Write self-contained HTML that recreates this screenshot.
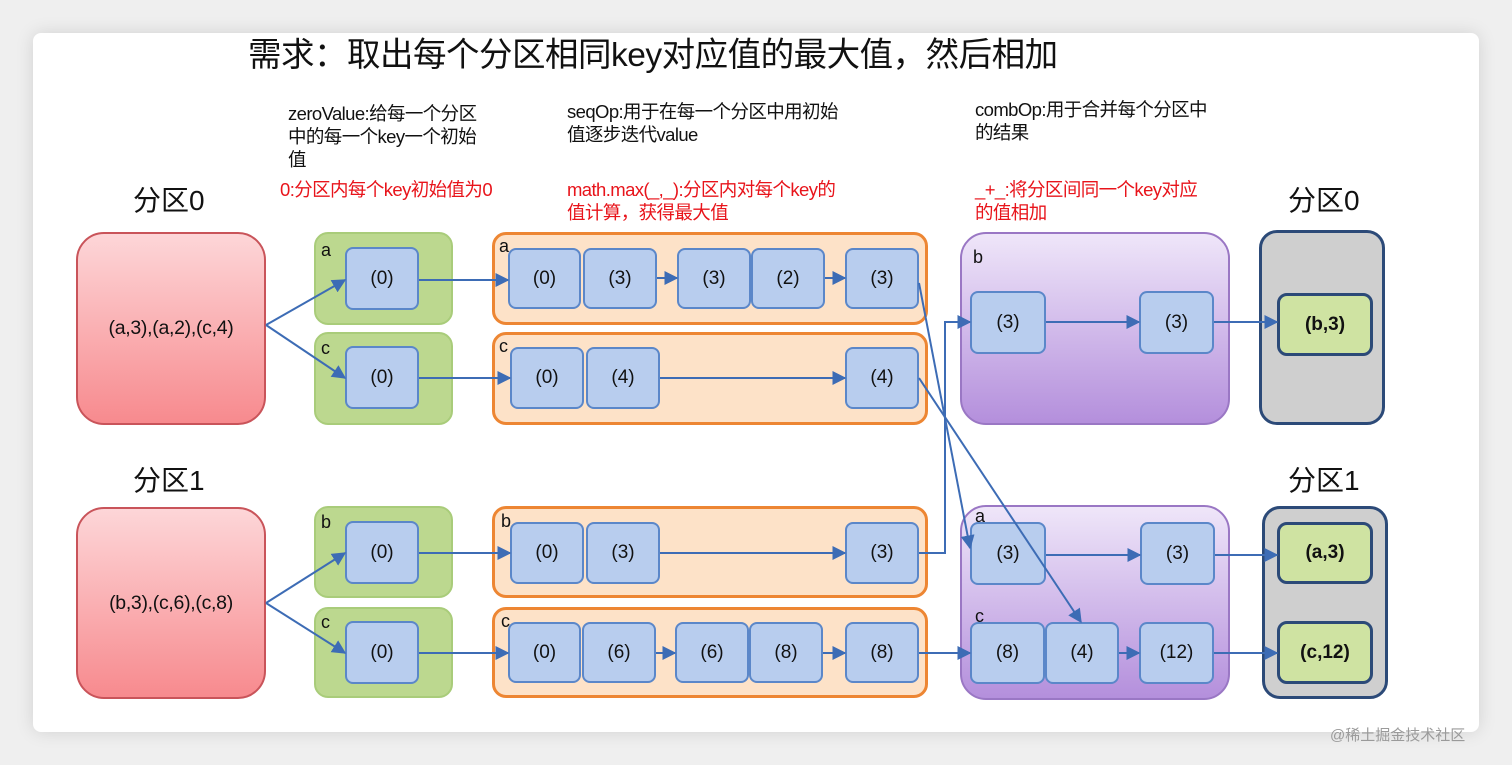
<!DOCTYPE html>
<html><head><meta charset="utf-8"><style>
*{margin:0;padding:0;box-sizing:border-box}
body{width:1512px;height:765px;background:#efefef;position:relative;overflow:hidden;font-family:"Liberation Sans","Noto Sans CJK SC",sans-serif;color:#111}
.card{position:absolute;left:33px;top:33px;width:1446px;height:699px;background:#fff;border-radius:8px;box-shadow:0 0 18px rgba(0,0,0,.12)}
.a{position:absolute}
.t{position:absolute;font-size:18.5px;line-height:23px;letter-spacing:-0.6px;white-space:nowrap}
.red{color:#e8141b}
.big{position:absolute;font-size:28px;line-height:32px}
.rb{position:absolute;border:2px solid #c9545a;border-radius:28px;background:linear-gradient(#fdd6d8,#f78a8e);display:flex;align-items:center;justify-content:center;font-size:19.5px;letter-spacing:-0.3px}
.gb{position:absolute;border-radius:14px;background:#bcd88f;border:2px solid #a9cc7a}
.ob{position:absolute;border-radius:14px;background:#fde2c8;border:3px solid #ed8633}
.pb{position:absolute;border-radius:26px;border:2px solid #9a77c4;background:linear-gradient(#efe6f9,#b48fdc)}
.gr{position:absolute;border-radius:18px;border:3px solid #2c4a78;background:#cfcfcf}
.n{position:absolute;border-radius:8px;background:#b8cdee;border:2px solid #5b87c9;display:flex;align-items:center;justify-content:center;font-size:19px}
.g{position:absolute;border-radius:10px;background:#cfe3a2;border:3px solid #2c4a78;display:flex;align-items:center;justify-content:center;font-size:19px;font-weight:bold}
.l{position:absolute;font-size:18px}
svg{position:absolute;left:0;top:0}
</style></head><body>
<div class="card"></div>
<div class="a" style="left:248px;top:36px;font-size:33.5px;line-height:40px;letter-spacing:-0.5px;white-space:nowrap">需求：取出每个分区相同key对应值的最大值，然后相加</div>

<div class="t" style="left:288px;top:102px">zeroValue:给每一个分区<br>中的每一个key一个初始<br>值</div>
<div class="t" style="left:567px;top:100px">seqOp:用于在每一个分区中用初始<br>值逐步迭代value</div>
<div class="t" style="left:975px;top:98px">combOp:用于合并每个分区中<br>的结果</div>
<div class="t red" style="left:280px;top:178px">0:分区内每个key初始值为0</div>
<div class="t red" style="left:567px;top:178px">math.max(_,_):分区内对每个key的<br>值计算，获得最大值</div>
<div class="t red" style="left:975px;top:178px">_+_:将分区间同一个key对应<br>的值相加</div>

<div class="big" style="left:133px;top:185px">分区0</div>
<div class="big" style="left:133px;top:465px">分区1</div>
<div class="big" style="left:1288px;top:185px">分区0</div>
<div class="big" style="left:1288px;top:465px">分区1</div>

<div class="rb" style="left:76px;top:232px;width:190px;height:193px">(a,3),(a,2),(c,4)</div>
<div class="rb" style="left:76px;top:507px;width:190px;height:192px">(b,3),(c,6),(c,8)</div>

<div class="gb" style="left:314px;top:232px;width:139px;height:93px"></div>
<div class="gb" style="left:314px;top:332px;width:139px;height:93px"></div>
<div class="gb" style="left:314px;top:506px;width:139px;height:92px"></div>
<div class="gb" style="left:314px;top:607px;width:139px;height:91px"></div>
<div class="l" style="left:321px;top:240px">a</div>
<div class="l" style="left:321px;top:338px">c</div>
<div class="l" style="left:321px;top:512px">b</div>
<div class="l" style="left:321px;top:612px">c</div>
<div class="n" style="left:345px;top:247px;width:74px;height:63px">(0)</div>
<div class="n" style="left:345px;top:346px;width:74px;height:63px">(0)</div>
<div class="n" style="left:345px;top:521px;width:74px;height:63px">(0)</div>
<div class="n" style="left:345px;top:621px;width:74px;height:63px">(0)</div>

<div class="ob" style="left:492px;top:232px;width:436px;height:93px"></div>
<div class="ob" style="left:492px;top:332px;width:436px;height:93px"></div>
<div class="ob" style="left:492px;top:506px;width:436px;height:92px"></div>
<div class="ob" style="left:492px;top:607px;width:436px;height:91px"></div>
<div class="l" style="left:499px;top:236px">a</div>
<div class="l" style="left:499px;top:336px">c</div>
<div class="l" style="left:501px;top:511px">b</div>
<div class="l" style="left:501px;top:611px">c</div>

<div class="n" style="left:508px;top:248px;width:73px;height:61px">(0)</div>
<div class="n" style="left:583px;top:248px;width:74px;height:61px">(3)</div>
<div class="n" style="left:677px;top:248px;width:74px;height:61px">(3)</div>
<div class="n" style="left:751px;top:248px;width:74px;height:61px">(2)</div>
<div class="n" style="left:845px;top:248px;width:74px;height:61px">(3)</div>

<div class="n" style="left:510px;top:347px;width:74px;height:62px">(0)</div>
<div class="n" style="left:586px;top:347px;width:74px;height:62px">(4)</div>
<div class="n" style="left:845px;top:347px;width:74px;height:62px">(4)</div>

<div class="n" style="left:510px;top:522px;width:74px;height:62px">(0)</div>
<div class="n" style="left:586px;top:522px;width:74px;height:62px">(3)</div>
<div class="n" style="left:845px;top:522px;width:74px;height:62px">(3)</div>

<div class="n" style="left:508px;top:622px;width:73px;height:61px">(0)</div>
<div class="n" style="left:582px;top:622px;width:74px;height:61px">(6)</div>
<div class="n" style="left:675px;top:622px;width:74px;height:61px">(6)</div>
<div class="n" style="left:749px;top:622px;width:74px;height:61px">(8)</div>
<div class="n" style="left:845px;top:622px;width:74px;height:61px">(8)</div>

<div class="pb" style="left:960px;top:232px;width:270px;height:193px"></div>
<div class="pb" style="left:960px;top:505px;width:270px;height:195px"></div>
<div class="l" style="left:973px;top:247px">b</div>
<div class="l" style="left:975px;top:506px">a</div>
<div class="l" style="left:975px;top:606px">c</div>
<div class="n" style="left:970px;top:291px;width:76px;height:63px">(3)</div>
<div class="n" style="left:1139px;top:291px;width:75px;height:63px">(3)</div>
<div class="n" style="left:970px;top:522px;width:76px;height:63px">(3)</div>
<div class="n" style="left:1140px;top:522px;width:75px;height:63px">(3)</div>
<div class="n" style="left:970px;top:622px;width:75px;height:62px">(8)</div>
<div class="n" style="left:1045px;top:622px;width:74px;height:62px">(4)</div>
<div class="n" style="left:1139px;top:622px;width:75px;height:62px">(12)</div>

<div class="gr" style="left:1259px;top:230px;width:126px;height:195px"></div>
<div class="gr" style="left:1262px;top:506px;width:126px;height:193px"></div>
<div class="g" style="left:1277px;top:293px;width:96px;height:63px">(b,3)</div>
<div class="g" style="left:1277px;top:522px;width:96px;height:62px">(a,3)</div>
<div class="g" style="left:1277px;top:621px;width:96px;height:63px">(c,12)</div>

<svg width="1512" height="765">
<defs><marker id="ar" viewBox="0 0 10 10" refX="9" refY="5" markerWidth="7" markerHeight="7" orient="auto"><path d="M0,0L10,5L0,10z" fill="#3d6cb5"/></marker></defs>
<g stroke="#3d6cb5" stroke-width="2" fill="none" marker-end="url(#ar)">
<path d="M266,325L345,280"/><path d="M266,325L345,378"/>
<path d="M266,603L345,553"/><path d="M266,603L345,653"/>
<path d="M419,280L508,280"/><path d="M419,378L510,378"/>
<path d="M419,553L510,553"/><path d="M419,653L508,653"/>
<path d="M657,278L677,278"/><path d="M825,278L845,278"/>
<path d="M660,378L845,378"/>
<path d="M660,553L845,553"/>
<path d="M656,653L675,653"/><path d="M823,653L845,653"/>
<path d="M919,283L970,548"/>
<path d="M919,378L1081,622"/>
<path d="M919,553L945,553L945,322L970,322"/>
<path d="M919,653L970,653"/>
<path d="M1046,322L1139,322"/><path d="M1214,322L1277,322"/>
<path d="M1046,555L1140,555"/><path d="M1215,555L1277,555"/>
<path d="M1119,653L1139,653"/><path d="M1214,653L1277,653"/>
</g>
</svg>
<div class="a" style="left:1330px;top:724px;font-size:15px;color:#9a9a9a">@稀土掘金技术社区</div>
</body></html>
